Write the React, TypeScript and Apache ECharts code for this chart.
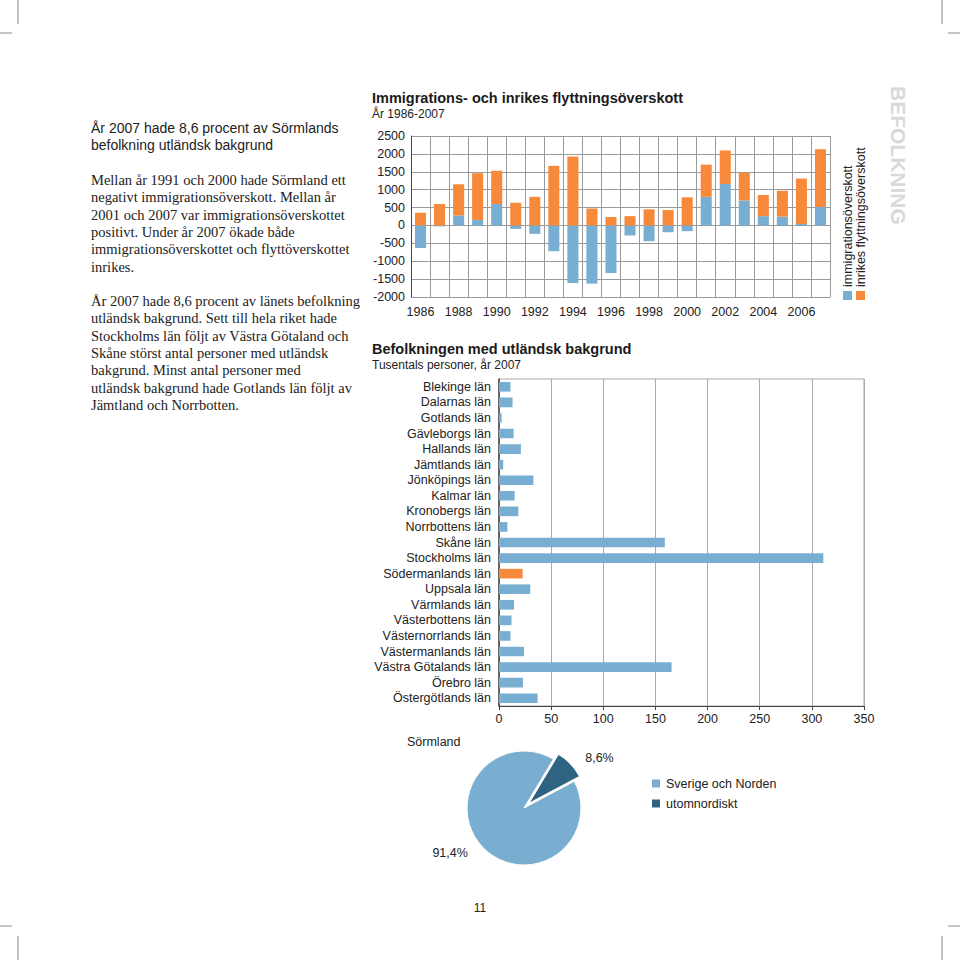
import React, { useEffect, useRef } from "react";
import * as echarts from "echarts";

const years = ["1986","1987","1988","1989","1990","1991","1992","1993","1994","1995","1996","1997","1998","1999","2000","2001","2002","2003","2004","2005","2006","2007"];
const immigration = [-630,-25,280,150,600,-95,-235,-720,-1610,-1625,-1330,-280,-440,-190,-160,800,1160,700,260,245,40,515];
const inrikes = [355,600,870,1310,930,635,800,1665,1925,475,235,260,450,430,785,900,935,775,590,725,1270,1615];
const yTicks = { min: -2000, max: 2500, interval: 500 };

const counties = ["Blekinge län","Dalarnas län","Gotlands län","Gävleborgs län","Hallands län","Jämtlands län","Jönköpings län","Kalmar län","Kronobergs län","Norrbottens län","Skåne län","Stockholms län","Södermanlands län","Uppsala län","Värmlands län","Västerbottens län","Västernorrlands län","Västermanlands län","Västra Götalands län","Örebro län","Östergötlands län"];
const foreignBackground = [11,13,2.5,14,21,4,33,15,18.5,8,159,311,22.7,30,14.4,12,11,24,165.5,23,37];
const highlighted = "Södermanlands län";

const pieNames = ["Sverige och Norden", "utomnordiskt"];
const pieValues = [91.4, 8.6];

const BLUE = "#78aed1";
const ORANGE = "#f6893a";
const DARK = "#2e6482";
const TXT = "#222222";
const SANS = '"Liberation Sans", Arial, sans-serif';
const SERIF = '"Liberation Serif", "Times New Roman", serif';

const heading = "År 2007 hade 8,6 procent av Sörmlands\nbefolkning utländsk bakgrund";
const para1 = "Mellan år 1991 och 2000 hade Sörmland ett\nnegativt immigrationsöverskott. Mellan år\n2001 och 2007 var immigrationsöverskottet\npositivt. Under år 2007 ökade både\nimmigrationsöverskottet och flyttöverskottet\ninrikes.";
const para2 = "År 2007 hade 8,6 procent av länets befolkning\nutländsk bakgrund. Sett till hela riket hade\nStockholms län följt av Västra Götaland och\nSkåne störst antal personer med utländsk\nbakgrund. Minst antal personer med\nutländsk bakgrund hade Gotlands län följt av\nJämtland och Norrbotten.";

function cropLine(x1: number, y1: number, x2: number, y2: number) {
  return { type: "line", shape: { x1, y1, x2, y2 }, style: { stroke: "#8a8a8a", lineWidth: 1 }, silent: true };
}

export default function App() {
  const ref = useRef<HTMLDivElement>(null);
  useEffect(() => {
    if (!ref.current) return;
    const chart = echarts.init(ref.current, undefined, { renderer: "svg" });
    const option: any = {
      animation: false,
      backgroundColor: "#ffffff",
      textStyle: { fontFamily: SANS },
      title: [
        {
          text: "Immigrations- och inrikes flyttningsöverskott",
          subtext: "År 1986-2007",
          left: 372, top: 90, itemGap: 3, padding: 0,
          textStyle: { fontFamily: SANS, fontSize: 14.5, fontWeight: 600, color: "#1a1a1a" },
          subtextStyle: { fontFamily: SANS, fontSize: 12, color: TXT },
        },
        {
          text: "Befolkningen med utländsk bakgrund",
          subtext: "Tusentals personer, år 2007",
          left: 372, top: 341, itemGap: 3, padding: 0,
          textStyle: { fontFamily: SANS, fontSize: 14.5, fontWeight: 600, color: "#1a1a1a" },
          subtextStyle: { fontFamily: SANS, fontSize: 12, color: TXT },
        },
        {
          text: "Sörmland", left: 407, top: 735, padding: 0,
          textStyle: { fontFamily: SANS, fontSize: 12.5, fontWeight: "normal", color: TXT },
        },
      ],
      legend: [
        {
          data: pieNames, orient: "vertical", left: 645, top: 772,
          icon: "rect", itemWidth: 10, itemHeight: 10, itemGap: 7,
          textStyle: { fontFamily: SANS, fontSize: 12.5, color: TXT },
        },
      ],
      grid: [
        { left: 411, top: 136, width: 419, height: 161 },
        { left: 499, top: 379, width: 365, height: 327, show: true, borderColor: "#a8a8a8", borderWidth: 1 },
      ],
      xAxis: [
        {
          gridIndex: 0, type: "category", data: years,
          axisLine: { onZero: false, lineStyle: { color: "#9a9a9a" } },
          axisTick: { show: false, interval: 0 },
          axisLabel: { interval: 1, color: TXT, fontSize: 12.5, margin: 8 },
          splitLine: { show: true, interval: 0, lineStyle: { color: "#9a9a9a" } },
        },
        {
          gridIndex: 1, type: "value", min: 0, max: 350, interval: 50,
          axisLine: { show: true, lineStyle: { color: "#444" } },
          axisTick: { show: true, length: 4, lineStyle: { color: "#444" } },
          axisLabel: { color: TXT, fontSize: 12.5, margin: 6 },
          splitLine: { show: true, lineStyle: { color: "#a8a8a8" } },
        },
      ],
      yAxis: [
        {
          gridIndex: 0, type: "value", min: yTicks.min, max: yTicks.max, interval: yTicks.interval,
          axisLine: { show: true, lineStyle: { color: "#444" } },
          axisTick: { show: false },
          axisLabel: { color: TXT, fontSize: 12.5, margin: 6, formatter: (v: number) => String(v) },
          splitLine: { show: true, lineStyle: { color: "#9a9a9a" } },
        },
        {
          gridIndex: 1, type: "category", data: counties, inverse: true,
          axisLine: { show: true, lineStyle: { color: "#444", width: 1.5 } },
          axisTick: { show: false },
          axisLabel: { color: TXT, fontSize: 12.5, margin: 8, interval: 0 },
          splitLine: { show: false },
        },
      ],
      series: [
        {
          name: "immigrationsöverskott", type: "bar", stack: "a", xAxisIndex: 0, yAxisIndex: 0,
          data: immigration, barWidth: "58%", itemStyle: { color: BLUE },
        },
        {
          name: "inrikes flyttningsöverskott", type: "bar", stack: "a", xAxisIndex: 0, yAxisIndex: 0,
          data: inrikes, barWidth: "58%", itemStyle: { color: ORANGE },
        },
        {
          name: "Befolkning", type: "bar", xAxisIndex: 1, yAxisIndex: 1, barWidth: "62%",
          data: foreignBackground.map((v, i) => ({
            value: v,
            itemStyle: { color: counties[i] === highlighted ? ORANGE : BLUE },
          })),
        },
        {
          name: "Sörmland", type: "pie", center: [524, 808], radius: 57, startAngle: 28,
          selectedMode: "single", selectedOffset: 7,
          itemStyle: { borderColor: "#ffffff", borderWidth: 1 },
          label: {
            show: true, position: "outside", color: TXT, fontSize: 12.5, fontFamily: SANS,
            formatter: (p: any) => String(p.value).replace(".", ",") + "%",
          },
          labelLine: { show: false, length: 8, length2: 4 },
          data: pieNames.map((n, i) => ({
            name: n, value: pieValues[i], selected: i === 1,
            itemStyle: { color: i === 0 ? "#7aaed0" : DARK },
          })),
        },
      ],
      graphic: [
        cropLine(18, 0, 18, 24), cropLine(0, 33, 12, 33),
        cropLine(942, 0, 942, 24), cropLine(948, 33, 960, 33),
        cropLine(0, 926, 12, 926), cropLine(18, 936, 18, 960),
        cropLine(948, 926, 960, 926), cropLine(942, 936, 942, 960),
        {
          type: "text", x: 91, y: 119,
          style: { text: heading, font: `14px ${SANS}`, fill: TXT, lineHeight: 17, verticalAlign: "top" },
        },
        {
          type: "text", x: 91, y: 171,
          style: { text: para1, font: `14.5px ${SERIF}`, fill: TXT, lineHeight: 17.4, verticalAlign: "top" },
        },
        {
          type: "text", x: 91, y: 292,
          style: { text: para2, font: `14.5px ${SERIF}`, fill: TXT, lineHeight: 17.4, verticalAlign: "top" },
        },
        { type: "rect", shape: { x: 843, y: 291, width: 9, height: 9 }, style: { fill: BLUE } },
        { type: "rect", shape: { x: 856, y: 291, width: 9, height: 9 }, style: { fill: ORANGE } },
        {
          type: "text", x: 847.5, y: 287, rotation: Math.PI / 2,
          style: { text: "immigrationsöverskott", font: `12.5px ${SANS}`, fill: TXT, align: "left", verticalAlign: "middle" },
        },
        {
          type: "text", x: 860.5, y: 287, rotation: Math.PI / 2,
          style: { text: "inrikes flyttningsöverskott", font: `12.5px ${SANS}`, fill: TXT, align: "left", verticalAlign: "middle" },
        },
        {
          type: "text", x: 898, y: 86, rotation: -Math.PI / 2,
          style: { text: "BEFOLKNING", font: `bold 21px ${SANS}`, fill: "#d9d9d9", align: "left", verticalAlign: "middle" },
        },
        {
          type: "text", x: 480, y: 908,
          style: { text: "11", font: `12px ${SANS}`, fill: TXT, align: "center", verticalAlign: "middle" },
        },
      ],
    };
    chart.setOption(option);
    return () => chart.dispose();
  }, []);
  return <div ref={ref} style={{ position: "absolute", left: 0, top: 0, width: 960, height: 960 }} />;
}
